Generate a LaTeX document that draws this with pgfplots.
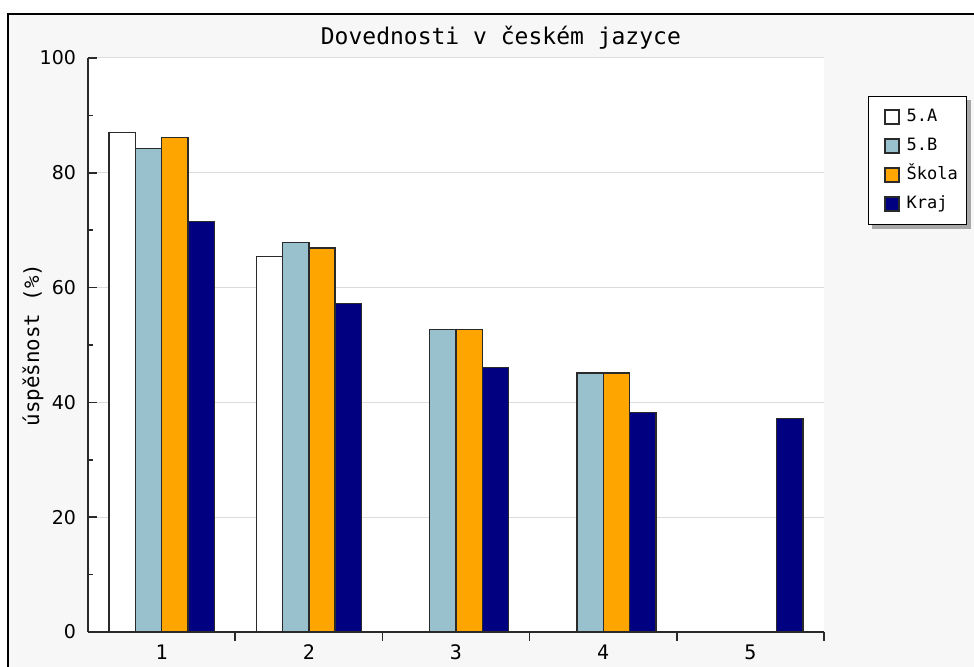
\documentclass[border=0pt]{standalone}
\usepackage{fontspec}
\setmainfont{DejaVu Sans Mono}
\newfontfamily\sansf{DejaVu Sans}
\usepackage{pgfplots}
\pgfplotsset{compat=1.18}
\definecolor{bgc}{HTML}{F7F7F7}
\definecolor{cA}{HTML}{FFFFFF}
\definecolor{cB}{HTML}{99C0CD}
\definecolor{cS}{HTML}{FFA500}
\definecolor{cK}{HTML}{000080}
\definecolor{edge}{HTML}{2A2A2A}
\definecolor{gridc}{HTML}{DCDCDC}
\definecolor{shad}{HTML}{A8A8A8}
\pgfdeclarelayer{back}
\pgfdeclarelayer{shadow}
\pgfsetlayers{back,shadow,main}
\begin{document}
\begin{tikzpicture}
\useasboundingbox (0,0) rectangle (487pt,333.5pt);
\begin{pgfonlayer}{back}
\draw[line width=1pt, fill=bgc] (4pt,-10pt) rectangle (520pt,326.5pt);
\end{pgfonlayer}
\begin{axis}[
  at={(44pt,17.5pt)}, anchor=south west,
  scale only axis, width=368pt, height=287pt,
  xmin=0.5, xmax=5.5, ymin=0, ymax=100,
  axis background/.style={fill=white},
  axis x line*=bottom, axis y line*=left,
  x axis line style={-, draw=edge, line width=0.75pt},
  y axis line style={-, draw=edge, line width=0.75pt},
  xtick align=inside, ytick align=inside,
  major tick length=4.5pt, minor tick length=2.5pt,
  tick style={draw=edge, line width=0.75pt},
  ytick={0,20,40,60,80,100}, minor ytick={10,30,50,70,90},
  ymajorgrids, grid style={draw=gridc, line width=0.5pt},
  xtick={1.5,2.5,3.5,4.5,5.5}, xticklabels={1,2,3,4,5},
  xticklabel style={xshift=-36.8pt, yshift=1.5pt, font=\fontsize{10}{12}\selectfont},
  yticklabel style={xshift=-2.5pt, font=\sansf\fontsize{9.5}{11}\selectfont},
  /pgf/number format/assume math mode=true,
  ylabel={úspěšnost (\%)},
  ylabel style={at={(rel axis cs:0,0.5)}, anchor=center, yshift=27.5pt, font=\fontsize{10.4}{12}\selectfont},
  title={Dovednosti v českém jazyce},
  title style={at={(rel axis cs:0.561,1)}, anchor=center, yshift=4.25pt, font=\fontsize{11.5}{13}\selectfont},
  ybar=0pt, bar width=13.15pt,
  legend style={at={(rel axis cs:1.0598,0.9338)}, anchor=north west, name=leg,
    draw=black, line width=0.5pt, fill=white,
    font=\fontsize{8.5}{10}\selectfont,
    inner xsep=3.5pt, inner ysep=5.5pt, row sep=5pt,
    nodes={inner sep=1pt, text height=6pt, text depth=1.5pt}},
  legend cell align=left,
  legend image code/.code={\draw[#1, line width=0.7pt] (0pt,-3.5pt) rectangle (7pt,3.5pt);
     \path (-4.35pt,0pt) (9.5pt,0pt);},
]
\addplot[fill=cA, draw=edge, line width=0.7pt] coordinates {(1,87) (2,65.4)};
\addplot[fill=cB, draw=edge, line width=0.7pt] coordinates {(1,84.2) (2,67.9) (3,52.7) (4,45.1)};
\addplot[fill=cS, draw=edge, line width=0.7pt] coordinates {(1,86.1) (2,66.9) (3,52.7) (4,45.1)};
\addplot[fill=cK, draw=edge, line width=0.7pt] coordinates {(1,71.5) (2,57.2) (3,46.1) (4,38.2) (5,37.2)};
\legend{5.A,5.B,Škola,Kraj}
\end{axis}
\begin{pgfonlayer}{shadow}
\fill[shad] ([shift={(2pt,-2pt)}]leg.south west) rectangle ([shift={(2pt,-2pt)}]leg.north east);
\end{pgfonlayer}
\end{tikzpicture}
\end{document}
